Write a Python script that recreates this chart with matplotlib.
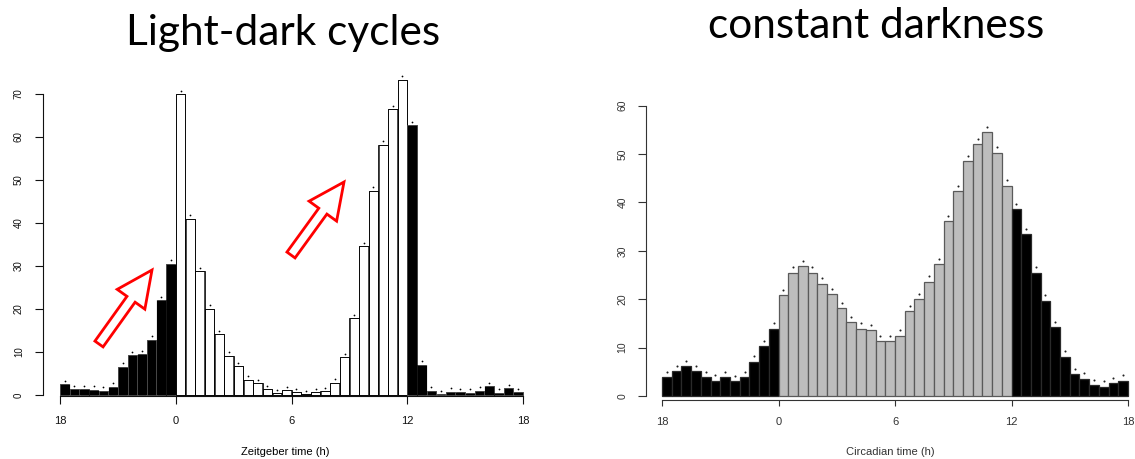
import matplotlib
matplotlib.use("Agg")
import matplotlib.pyplot as plt
from matplotlib.patches import FancyArrow
import numpy as np

# ---------------- data ----------------
tick_positions = [0, 6, 12, 18, 24]
tick_labels = ["18", "0", "6", "12", "18"]

# Light-dark cycles: 48 half-hour bins starting at ZT18
ld_values = [2.5, 1.4, 1.4, 1.2, 1.0, 1.9, 6.6, 9.3, 9.5, 12.9, 22.1, 30.5,
             70.0, 41.0, 28.8, 20.1, 14.1, 9.1, 6.7, 3.6, 2.8, 1.3, 0.4, 1.1,
             0.6, 0.15, 0.6, 0.9, 2.9, 8.8, 17.8, 34.6, 47.5, 58.2, 66.5, 73.3,
             62.8, 7.0, 1.0, 0.15, 0.8, 0.6, 0.5, 1.0, 2.1, 0.55, 1.6, 0.7]
ld_phase = ["dark"] * 12 + ["light"] * 24 + ["dark"] * 12

# Constant darkness: 48 half-hour bins starting at CT18
dd_values = [3.9, 5.2, 6.1, 5.2, 3.9, 3.2, 3.9, 3.0, 3.9, 7.1, 10.3, 13.9,
             20.9, 25.5, 26.8, 25.5, 23.2, 21.1, 18.2, 15.2, 13.9, 13.6, 11.4, 11.4,
             12.5, 17.6, 20.0, 23.6, 27.3, 36.1, 42.4, 48.6, 52.1, 54.6, 50.3, 43.5,
             38.6, 33.4, 25.5, 19.7, 14.2, 8.1, 4.5, 3.6, 2.3, 1.9, 2.6, 3.2]
dd_phase = ["dark"] * 12 + ["subjective day"] * 24 + ["dark"] * 12

ld_yticks = [0, 10, 20, 30, 40, 50, 60, 70]
dd_yticks = [0, 10, 20, 30, 40, 50, 60]

titles = ["Light-dark cycles", "constant darkness"]
xlabels = ["Zeitgeber time (h)", "Circadian time (h)"]

# ---------------- figure ----------------
W, H = 1135, 459
fig = plt.figure(figsize=(W / 100, H / 100), dpi=100)

tick_font = "Liberation Sans"

def px_axes(left, bottom_px, width, height):
    return [left / W, bottom_px / H, width / W, height / H]

# left panel: x: 19.29 px/h, y: 4.3 px/unit
ppx_l, ppy_l = 463 / 24, 43.0 / 10
x0l, x1l = -0.9, 24.3
y0l, y1l = -0.25, 78
axL = fig.add_axes(px_axes(60 + x0l * ppx_l, (H - 395) - (0 - y0l) * ppy_l,
                           (x1l - x0l) * ppx_l, (y1l - y0l) * ppy_l))
# right panel
ppx_r, ppy_r = 466 / 24, (396 - 105.7) / 60
x0r, x1r = -0.82, 24.3
y0r, y1r = -0.8, 62
axR = fig.add_axes(px_axes(662 + x0r * ppx_r, (H - 396) - (0 - y0r) * ppy_r,
                           (x1r - x0r) * ppx_r, (y1r - y0r) * ppy_r))

n = len(ld_values)
centers = np.arange(n) * 0.5 + 0.25

# left bars
ld_colors = ["black" if p == "dark" else "white" for p in ld_phase]
ld_edges = ["white" if p == "dark" else "black" for p in ld_phase]
axL.bar(centers, ld_values, width=0.5, color=ld_colors, edgecolor=ld_edges,
        linewidth=0.6, zorder=2)
axL.bar(centers, ld_values, width=0.46, color="none", edgecolor="black",
        linewidth=0.5, zorder=3)
axL.scatter(centers, np.array(ld_values) + 0.8, s=1.6, color="black",
            marker="o", linewidths=0, zorder=4, clip_on=False)

# right bars
dd_colors = ["black" if p == "dark" else "#bdbdbd" for p in dd_phase]
dd_edges = ["#2a2a2a" if p == "dark" else "#5a5a5a" for p in dd_phase]
axR.bar(centers, dd_values, width=0.5, color=dd_colors, edgecolor=dd_edges,
        linewidth=0.9, zorder=2)
axR.scatter(centers, np.array(dd_values) + 1.1, s=2.2, color="#222222",
            marker="o", linewidths=0, zorder=4, clip_on=False)

for ax, (x0, x1, y0, y1), yt, col in [
        (axL, (x0l, x1l, y0l, y1l), ld_yticks, "#111111"),
        (axR, (x0r, x1r, y0r, y1r), dd_yticks, "#333333")]:
    ax.set_xlim(x0, x1)
    ax.set_ylim(y0, y1)
    for s in ["top", "right"]:
        ax.spines[s].set_visible(False)
    ax.spines["left"].set_bounds(yt[0], yt[-1])
    ax.spines["bottom"].set_bounds(0, 24)
    for s in ["left", "bottom"]:
        ax.spines[s].set_color(col)
        ax.spines[s].set_linewidth(0.8)
    ax.set_xticks(tick_positions)
    ax.set_xticklabels(tick_labels, fontsize=8, family=tick_font, color=col)
    ax.set_yticks(yt)
    ax.set_yticklabels([str(v) for v in yt], fontsize=7.5, family=tick_font,
                       color=col, rotation=90, va="center")
    ax.tick_params(axis="both", direction="out", length=5.5, width=0.8,
                   color=col)
    ax.patch.set_alpha(0)

axL.tick_params(axis="x", pad=9)
axL.tick_params(axis="y", pad=8, labelsize=7)
axR.tick_params(axis="x", pad=8, length=4.5)
axR.tick_params(axis="y", pad=8)

axL.set_xlabel(xlabels[0], fontsize=8, family=tick_font, labelpad=15)
axR.set_xlabel(xlabels[1], fontsize=8, family=tick_font, color="#333333",
               labelpad=14)

# titles
fig.text(283.5 / W, 1 - 45 / H, titles[0], fontsize=30.5, family="Lato",
         ha="center", va="baseline")
fig.text(876.5 / W, 1 - 38 / H, titles[1], fontsize=30.5, family="Lato",
         ha="center", va="baseline")

# red hollow arrows (positions in pixels -> inches)
def hollow_arrow(tail, tip):
    tx, ty = tail[0] / 100, (H - tail[1]) / 100
    hx, hy = tip[0] / 100, (H - tip[1]) / 100
    arr = FancyArrow(tx, ty, hx - tx, hy - ty, width=0.10, head_width=0.34,
                     head_length=0.36, length_includes_head=True,
                     transform=fig.dpi_scale_trans, facecolor="white",
                     edgecolor="red", linewidth=2.0, zorder=10)
    fig.patches.append(arr)

hollow_arrow((99, 344), (152, 270))
hollow_arrow((291, 255), (344, 182))

fig.savefig("out.png", dpi=100)
